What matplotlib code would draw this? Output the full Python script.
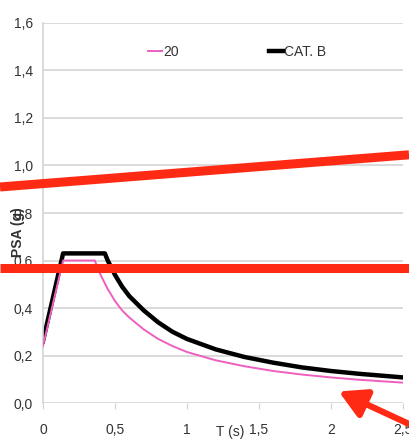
import matplotlib
matplotlib.use("Agg")
import matplotlib.pyplot as plt
from matplotlib.patches import FancyArrowPatch
from matplotlib.lines import Line2D

# periods (s) and spectral values
t_20 = [0.0, 0.14, 0.36, 0.40, 0.45, 0.50, 0.55, 0.60, 0.70, 0.80, 0.90, 1.00,
        1.20, 1.40, 1.60, 1.80, 2.00, 2.20, 2.50]
psa_20 = [0.24, 0.60, 0.60, 0.54, 0.48, 0.43, 0.39, 0.36, 0.31, 0.27, 0.24, 0.215,
          0.18, 0.155, 0.135, 0.12, 0.108, 0.098, 0.086]

t_catb = [0.0, 0.14, 0.43, 0.45, 0.50, 0.55, 0.60, 0.70, 0.80, 0.90, 1.00,
          1.20, 1.40, 1.60, 1.80, 2.00, 2.20, 2.50]
psa_catb = [0.26, 0.63, 0.63, 0.60, 0.54, 0.49, 0.45, 0.39, 0.34, 0.30, 0.27,
            0.226, 0.194, 0.17, 0.15, 0.135, 0.123, 0.108]

x_ticks = [0, 0.5, 1, 1.5, 2, 2.5]
x_labels = ["0", "0,5", "1", "1,5", "2", "2,5"]
y_ticks = [0.0, 0.2, 0.4, 0.6, 0.8, 1.0, 1.2, 1.4, 1.6]
y_labels = ["0,0", "0,2", "0,4", "0,6", "0,8", "1,0", "1,2", "1,4", "1,6"]

plt.rcParams["font.family"] = ["Liberation Sans Narrow", "Liberation Sans", "DejaVu Sans"]

fig = plt.figure(figsize=(4.09, 4.41), dpi=100)
ax = fig.add_axes([0.105, 0.086, 0.88, 0.862])

ax.plot(t_20, psa_20, color="#ee5fbf", lw=1.4, label="20", zorder=3)
ax.plot(t_catb, psa_catb, color="black", lw=3.2, label="CAT. B", zorder=2)

ax.set_xlim(0, 2.5)
ax.set_ylim(0, 1.6)
ax.set_xticks(x_ticks)
ax.set_xticklabels(x_labels)
ax.set_yticks(y_ticks)
ax.set_yticklabels(y_labels)
ax.tick_params(axis="both", labelsize=10, colors="#333333", length=0, pad=7)
ax.tick_params(axis="x", length=4, color="#d0d0d0", pad=10)
ax.grid(axis="y", color="#d4d4d4", lw=1.2)
ax.set_axisbelow(True)
for side in ["top", "right", "bottom"]:
    ax.spines[side].set_visible(False)
ax.spines["left"].set_color("#d4d4d4")
ax.spines["left"].set_linewidth(1.2)

ax.legend(loc="upper center", bbox_to_anchor=(0.54, 0.975), ncol=2, frameon=False,
          fontsize=10, handlelength=1.0, handletextpad=0.1, columnspacing=6.5,
          labelcolor="#333333")

ax.text(0.52, -0.076, "T (s)", transform=ax.transAxes, ha="center", va="center",
        fontsize=10, color="#333333")
ax.text(-0.07, 0.45, "PSA (g)", transform=ax.transAxes, ha="center", va="center",
        rotation=90, fontsize=10, fontweight="bold", color="#333333")

# red hand-drawn markings over the chart
red = "#ff2a14"
fig.add_artist(Line2D([0.0, 1.0], [0.576, 0.649], transform=fig.transFigure,
                      color=red, lw=6.5, solid_capstyle="butt", zorder=10))
fig.add_artist(Line2D([0.0, 1.0], [0.392, 0.392], transform=fig.transFigure,
                      color=red, lw=6.5, solid_capstyle="butt", zorder=10))
fig.add_artist(FancyArrowPatch((1.02, 0.03), (0.822, 0.115), transform=fig.transFigure,
                               arrowstyle="-|>,head_length=9,head_width=5",
                               color=red, lw=4.5, mutation_scale=1.8, zorder=10))

fig.savefig("out.png", dpi=100)
